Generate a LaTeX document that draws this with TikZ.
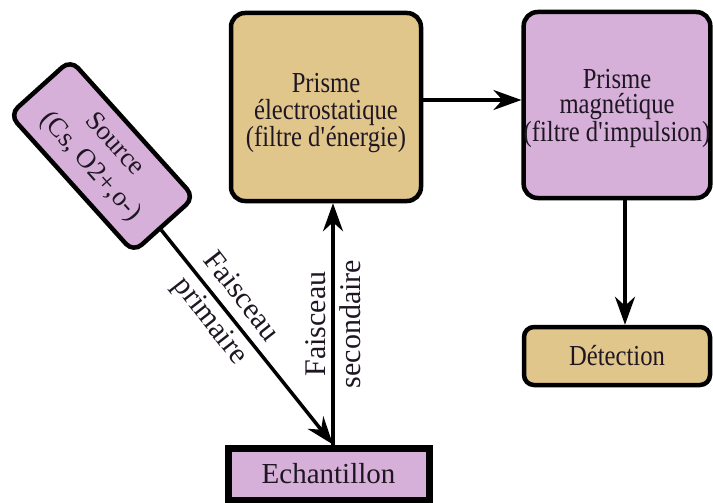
\documentclass[tikz,border=0pt]{standalone}
\usepackage{fontspec}
\setmainfont{Liberation Serif}
\newfontfamily\condfont{Liberation Serif}[FakeStretch=0.85]
\usetikzlibrary{arrows.meta}
\definecolor{tanfill}{RGB}{225,198,140}
\definecolor{purfill}{RGB}{214,176,216}
\definecolor{ink}{RGB}{30,22,34}
\begin{document}
\begin{tikzpicture}[x=1pt,y=-1pt,
  box/.style={draw=black, line width=4.5pt, rounded corners=14pt, align=center, text=ink, inner sep=0pt},
  boxfont/.style={font=\condfont\fontsize{29}{26}\selectfont},
  arr/.style={line width=3.5pt, -{Stealth[length=28pt,width=20pt,inset=9pt]}},
  lbl/.style={text=ink, align=center, inner sep=0pt}]
\useasboundingbox (0,0) rectangle (713,503);
\node[box, boxfont, font=\condfont\fontsize{29}{27}\selectfont, fill=tanfill, minimum width=190pt, minimum height=188pt] (elec) at (326,107) {\rule{0pt}{31pt}Prisme\\électrostatique\\(filtre d\textquotesingle énergie)};
\node[box, boxfont, font=\condfont\fontsize{29}{25}\selectfont, fill=purfill, minimum width=186pt, minimum height=186pt] (mag) at (617,105) {\rule{0pt}{26pt}Prisme\\magnétique\\(filtre d\textquotesingle impulsion)};
\node[box, boxfont, fill=tanfill, minimum width=186pt, minimum height=58pt, rounded corners=10pt] (det) at (617,356) {Détection};
\node[draw=black, line width=7pt, fill=purfill, minimum width=201pt, minimum height=52pt, inner sep=0pt, text=ink, font=\fontsize{29}{30}\selectfont] (ech) at (328.5,474) {Echantillon};
\node[box, fill=purfill, minimum width=185pt, minimum height=82pt, rounded corners=11pt, rotate=-48, font=\fontsize{27}{33}\selectfont] (src) at (102,156) {Source\\(Cs, O2+,o-)};
\coordinate (vx) at (333,0);
\coordinate (hy) at (0,100);
\coordinate (dx) at (625,0);
\draw[arr] (src) -- (ech.north -| vx) node[lbl, pos=0.37, rotate=-52, font=\fontsize{30}{39}\selectfont] {Faisceau\\primaire};
\draw[arr] (ech.north -| vx) -- (elec.south -| vx) node[lbl, midway, rotate=90, font=\fontsize{30}{35}\selectfont] {Faisceau\\secondaire};
\draw[arr] (elec.east |- hy) -- (mag.west |- hy);
\draw[arr] (mag.south -| dx) -- (det.north -| dx);
\end{tikzpicture}
\end{document}
